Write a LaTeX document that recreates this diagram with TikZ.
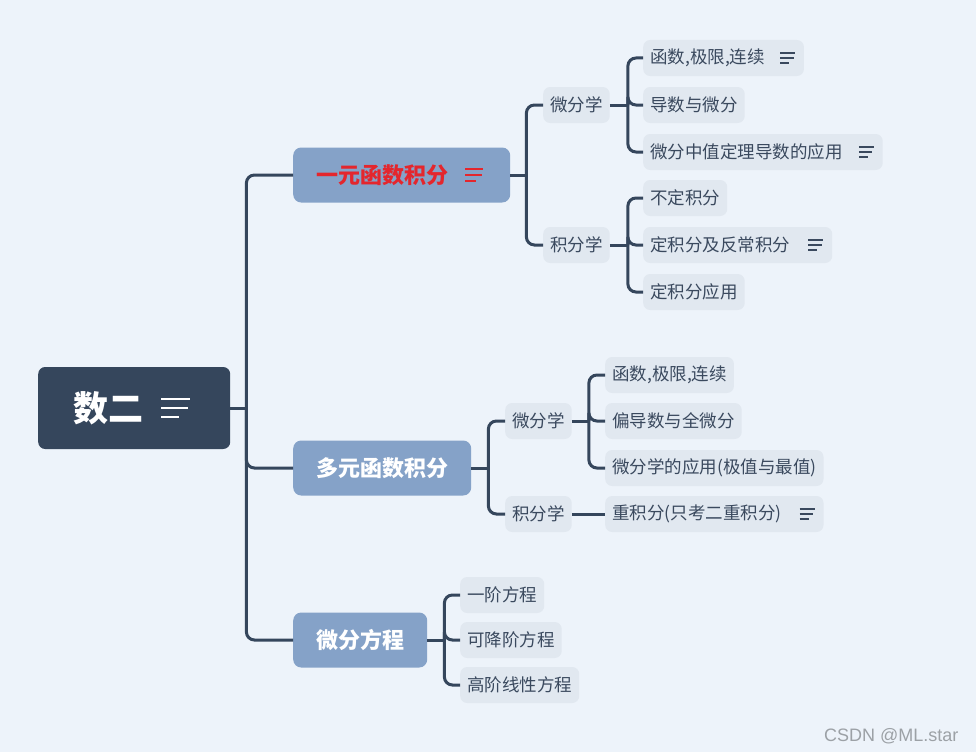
\documentclass[tikz,border=0pt]{standalone}
\usepackage{fontspec}
\setmainfont{Noto Sans CJK SC}
\newfontfamily\wmfont{Liberation Sans}
\usetikzlibrary{calc}
\definecolor{bg}{HTML}{EDF3FA}
\definecolor{rootc}{HTML}{35465C}
\definecolor{midc}{HTML}{85A2C8}
\definecolor{leafc}{HTML}{E1E8F0}
\definecolor{linec}{HTML}{35465C}
\definecolor{txtc}{HTML}{3A495E}
\definecolor{redc}{HTML}{E4262D}
\definecolor{wm}{HTML}{9CA1A6}
\tikzset{
  rootbox/.style={fill=rootc, rounded corners=7pt, text=white, anchor=west,
    font=\fontsize{35}{40}\selectfont\bfseries, minimum height=82pt, inner xsep=35pt},
  lonebox/.style={fill=midc, rounded corners=8pt, text=white, anchor=west,
    font=\fontsize{22}{26}\selectfont\bfseries, minimum height=55pt, inner xsep=23pt},
  lfbox/.style={fill=leafc, rounded corners=7pt, text=txtc, anchor=west,
    font=\fontsize{17.5}{21}\selectfont, minimum height=36pt, inner xsep=7pt},
  conn/.style={draw=linec, line width=3pt, rounded corners=8pt},
}
\newcommand\mmNote[6]{%
  \draw[#5, line width=#6] ($(#1)+(-#2-#3,-#4)$) -- ++(#3,0);
  \draw[#5, line width=#6] ($(#1)+(-#2-#3,0)$) -- ++({0.9*#3},0);
  \draw[#5, line width=#6] ($(#1)+(-#2-#3,#4)$) -- ++({0.6*#3},0);
}
\newcommand\gapr[1]{\rule{#1}{0pt}}
\begin{document}
\begin{tikzpicture}[x=1pt,y=-1pt]
\useasboundingbox (0,0) rectangle (976,752);
\fill[bg] (0,0) rectangle (976,752);

% nodes
\node[rootbox] (root) at (38,408) {数二\gapr{52pt}};
\node[lonebox, text=redc] (A) at (293,175) {一元函数积分\gapr{39pt}};
\node[lonebox] (B) at (293,468) {多元函数积分};
\node[lonebox] (C) at (293,640) {微分方程};

\node[lfbox] (A1) at (543,105) {微分学};
\node[lfbox] (A2) at (543,245) {积分学};
\node[lfbox] (A11) at (643,58) {函数,极限,连续\gapr{32pt}};
\node[lfbox] (A12) at (643,105) {导数与微分};
\node[lfbox] (A13) at (643,152) {微分中值定理导数的应用\gapr{33pt}};
\node[lfbox] (A21) at (643,198) {不定积分};
\node[lfbox] (A22) at (643,245) {定积分及反常积分\gapr{35pt}};
\node[lfbox] (A23) at (643,292) {定积分应用};

\node[lfbox] (B1) at (505,421) {微分学};
\node[lfbox] (B2) at (505,514) {积分学};
\node[lfbox] (B11) at (605,375) {函数,极限,连续};
\node[lfbox] (B12) at (605,421) {偏导数与全微分};
\node[lfbox] (B13) at (605,468) {微分学的应用(极值与最值)};
\node[lfbox] (B21) at (605,514) {重积分(只考二重积分)\gapr{35pt}};

\node[lfbox] (C1) at (460,595) {一阶方程};
\node[lfbox] (C2) at (460,640) {可降阶方程};
\node[lfbox] (C3) at (460,685) {高阶线性方程};

\node[font=\wmfont\fontsize{18}{21}\selectfont, text=wm, anchor=east] (wmk) at (962,736) {CSDN @ML.star};

% icons
\mmNote{root.east}{40}{29}{9}{white}{2.2pt}
\mmNote{A.east}{27}{18}{6}{redc}{2pt}
\mmNote{A11.east}{9}{15}{5}{txtc}{1.6pt}
\mmNote{A13.east}{9}{15}{5}{txtc}{1.6pt}
\mmNote{A22.east}{9}{15}{5}{txtc}{1.6pt}
\mmNote{B21.east}{9}{15}{5}{txtc}{1.6pt}

% connectors
\coordinate (j0) at ($(root.east)+(16,0)$);
\draw[conn] (root.east) -- (j0);
\draw[conn] (j0) |- (A.west);
\draw[conn] (j0) |- (B.west);
\draw[conn] (j0) |- (C.west);

\coordinate (jA) at ($(A.east)+(16,0)$);
\draw[conn] (A.east) -- (jA);
\draw[conn] (jA) |- (A1.west);
\draw[conn] (jA) |- (A2.west);

\coordinate (jA1) at ($(A1.east)+(18,0)$);
\draw[conn] (A1.east) -- (jA1);
\draw[conn] (jA1) |- (A11.west);
\draw[conn] (jA1) |- (A12.west);
\draw[conn] (jA1) |- (A13.west);

\coordinate (jA2) at ($(A2.east)+(18,0)$);
\draw[conn] (A2.east) -- (jA2);
\draw[conn] (jA2) |- (A21.west);
\draw[conn] (jA2) |- (A22.west);
\draw[conn] (jA2) |- (A23.west);

\coordinate (jB) at ($(B.east)+(17,0)$);
\draw[conn] (B.east) -- (jB);
\draw[conn] (jB) |- (B1.west);
\draw[conn] (jB) |- (B2.west);

\coordinate (jB1) at ($(B1.east)+(17,0)$);
\draw[conn] (B1.east) -- (jB1);
\draw[conn] (jB1) |- (B11.west);
\draw[conn] (jB1) |- (B12.west);
\draw[conn] (jB1) |- (B13.west);

\draw[conn] (B2.east) -- (B21.west);

\coordinate (jC) at ($(C.east)+(17,0)$);
\draw[conn] (C.east) -- (jC);
\draw[conn] (jC) |- (C1.west);
\draw[conn] (jC) |- (C2.west);
\draw[conn] (jC) |- (C3.west);
\end{tikzpicture}
\end{document}
